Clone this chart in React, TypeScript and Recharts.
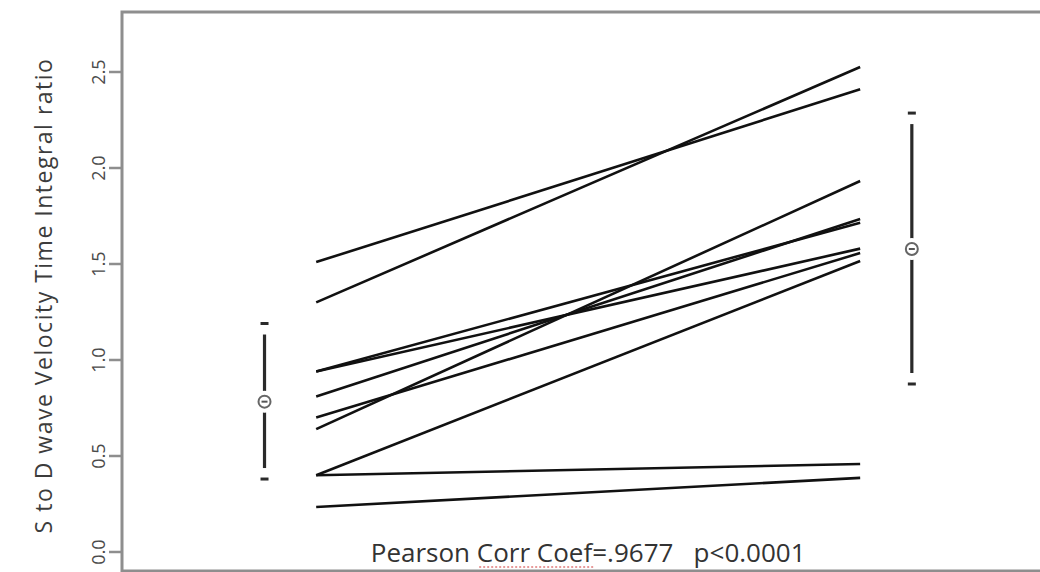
import { ComposedChart, Line, Scatter, XAxis, YAxis, ReferenceArea, ReferenceDot } from "recharts";

// paired S/D VTI ratios, before (x=1) and after (x=2)
const before = [1.51, 1.3, 0.94, 0.94, 0.81, 0.7, 0.64, 0.4, 0.4, 0.234];
const after = [2.41, 2.526, 1.715, 1.58, 1.734, 1.557, 1.932, 1.516, 0.458, 0.386];
const groupX = [1, 2];

// mean and spread markers drawn beside each group
const summaryX = [0.905, 2.095];
const summaryMean = [0.783, 1.578];
const summaryLow = [0.38, 0.875];
const summaryHigh = [1.19, 2.286];

const yTicks = [0, 0.5, 1, 1.5, 2, 2.5];
const xDomain = [0.643, 2.349];
const yDomain = [-0.099, 2.8125];

const yLabel = "S to D wave Velocity Time Integral ratio";
const note = { x: 1.5, y: 0, text: "Pearson Corr Coef=.9677\u00a0\u00a0 p<0.0001" };

const font = "'Open Sans', 'Noto Sans', sans-serif";
const boxColor = "#8e8e8e";
const barColor = "#2a2a2a";

const pairs = before.map((b, i) => [
  { x: groupX[0], y: b },
  { x: groupX[1], y: after[i] },
]);
const spreadLines = summaryX.map((x, i) => [
  { x, y: summaryLow[i] },
  { x, y: summaryHigh[i] },
]);
const caps = summaryX.flatMap((x, i) => [
  { x, y: summaryLow[i] },
  { x, y: summaryHigh[i] },
]);
const means = summaryX.map((x, i) => ({ x, y: summaryMean[i] }));

function YTick({ x, y, payload }: any) {
  const bx = x - 2;
  return (
    <text
      x={bx}
      y={y}
      transform={`rotate(-90, ${bx}, ${y})`}
      textAnchor="middle"
      fontFamily={font}
      fontSize={18}
      fill="#4a4a4a"
    >
      {payload.value.toFixed(1)}
    </text>
  );
}

function YTitle({ viewBox }: any) {
  const cx = 52;
  const cy = viewBox.y + viewBox.height / 2 + 4;
  return (
    <text
      x={cx}
      y={cy}
      transform={`rotate(-90, ${cx}, ${cy})`}
      textAnchor="middle"
      fontFamily={font}
      fontSize={23}
      letterSpacing={1.5}
      fill="#3c3c3c"
    >
      {yLabel}
    </text>
  );
}

function CapShape({ cx, cy }: any) {
  return (
    <g>
      <rect x={cx - 6} y={cy - 11} width={12} height={22} fill="#fff" />
      <line x1={cx - 4} x2={cx + 4} y1={cy} y2={cy} stroke={barColor} strokeWidth={3} />
    </g>
  );
}

function MeanShape({ cx, cy }: any) {
  return (
    <g>
      <circle cx={cx} cy={cy} r={11} fill="#fff" />
      <circle cx={cx} cy={cy} r={6} fill="none" stroke="#666" strokeWidth={2} />
      <line x1={cx - 3} x2={cx + 3} y1={cy} y2={cy} stroke="#555" strokeWidth={2} />
    </g>
  );
}

function NoteShape({ cx, cy }: any) {
  return (
    <g>
      <text x={cx} y={cy + 10} textAnchor="middle" fontFamily={font} fontSize={26} fill="#333">
        {note.text}
      </text>
      {/* faint spell-check squiggle under "Corr Coef" */}
      <line
        x1={cx - 109}
        x2={cx + 5}
        y1={cy + 15}
        y2={cy + 15}
        stroke="#e07a7a"
        strokeWidth={1.3}
        strokeDasharray="2 2"
      />
    </g>
  );
}

export default function App() {
  return (
    <div style={{ position: "absolute", left: 0, top: 0, width: 1040, height: 572, overflow: "hidden", background: "#fff" }}>
      <ComposedChart width={1050} height={572} margin={{ top: 12, right: 0, bottom: 1, left: 0 }}>
        <XAxis type="number" dataKey="x" domain={xDomain} allowDataOverflow hide />
        <YAxis
          type="number"
          dataKey="y"
          domain={yDomain}
          ticks={yTicks}
          allowDataOverflow
          width={122}
          tickSize={13}
          axisLine={false}
          tickLine={{ stroke: boxColor, strokeWidth: 2.5 }}
          tick={<YTick />}
          label={<YTitle />}
        />
        <ReferenceArea
          x1={xDomain[0]}
          x2={xDomain[1]}
          y1={yDomain[0]}
          y2={yDomain[1]}
          fill="none"
          stroke={boxColor}
          strokeWidth={3}
          fillOpacity={0}
        />
        {pairs.map((d, i) => (
          <Line
            key={`pair-${i}`}
            data={d}
            dataKey="y"
            stroke="#111"
            strokeWidth={2.6}
            dot={false}
            activeDot={false}
            isAnimationActive={false}
          />
        ))}
        {spreadLines.map((d, i) => (
          <Line
            key={`spread-${i}`}
            data={d}
            dataKey="y"
            stroke={barColor}
            strokeWidth={3.2}
            dot={false}
            activeDot={false}
            isAnimationActive={false}
          />
        ))}
        <Scatter data={caps} dataKey="y" shape={<CapShape />} isAnimationActive={false} />
        <Scatter data={means} dataKey="y" shape={<MeanShape />} isAnimationActive={false} />
        <ReferenceDot x={note.x} y={note.y} r={0} shape={<NoteShape />} ifOverflow="visible" />
      </ComposedChart>
    </div>
  );
}
